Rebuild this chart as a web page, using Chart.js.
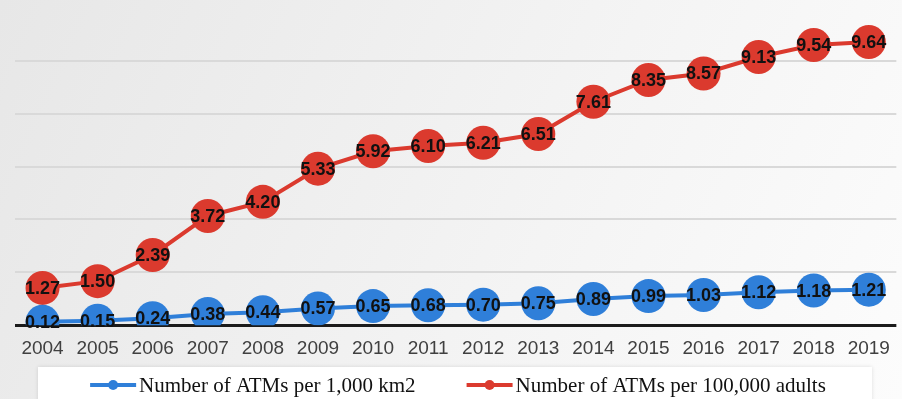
<!DOCTYPE html>
<html>
<head>
<meta charset="utf-8">
<script src="https://cdn.jsdelivr.net/npm/chart.js@4.4.1/dist/chart.umd.min.js"></script>
<style>
  html, body { margin: 0; padding: 0; background: #ffffff; }
  #wrap { width: 902px; height: 399px; }
</style>
</head>
<body>
<div id="wrap"><canvas id="atmChart"></canvas></div>
<script>
// values
var years = ['2004', '2005', '2006', '2007', '2008', '2009', '2010', '2011',
  '2012', '2013', '2014', '2015', '2016', '2017', '2018', '2019'];
var atmsPerArea = [0.12, 0.15, 0.24, 0.38, 0.44, 0.57, 0.65, 0.68,
  0.70, 0.75, 0.89, 0.99, 1.03, 1.12, 1.18, 1.21];
var atmsPerAdults = [1.27, 1.50, 2.39, 3.72, 4.20, 5.33, 5.92, 6.10,
  6.21, 6.51, 7.61, 8.35, 8.57, 9.13, 9.54, 9.64];
var seriesNames = ['Number of ATMs per 1,000 km2', 'Number of ATMs per 100,000 adults'];

var BLUE = '#2f7fd9';
var RED = '#db3a2e';

// gray gradient behind everything
var backdrop = {
  id: 'backdrop',
  beforeDraw: function (chart) {
    var ctx = chart.ctx;
    var g = ctx.createLinearGradient(0, 0, chart.width, chart.height);
    g.addColorStop(0, '#e7e7e7');
    g.addColorStop(0.6, '#f4f4f4');
    g.addColorStop(1, '#fcfcfc');
    ctx.save();
    ctx.fillStyle = g;
    ctx.fillRect(0, 0, chart.width, chart.height);
    ctx.restore();
  }
};

// value labels centred in the big markers
var pointLabels = {
  id: 'pointLabels',
  afterDatasetsDraw: function (chart) {
    var ctx = chart.ctx;
    ctx.save();
    ctx.font = 'bold 18px "Liberation Sans", Arial, sans-serif';
    ctx.fillStyle = '#111111';
    ctx.textAlign = 'center';
    ctx.textBaseline = 'middle';
    for (var d = chart.data.datasets.length - 1; d >= 0; d--) {
      var meta = chart.getDatasetMeta(d);
      meta.data.forEach(function (pt, i) {
        var v = chart.data.datasets[d].data[i];
        ctx.fillText(v.toFixed(2), pt.x, pt.y + 1);
      });
    }
    ctx.restore();
  }
};

// boxed legend with line+dot markers, serif text
var legendBox = {
  id: 'legendBox',
  afterDraw: function (chart) {
    var ctx = chart.ctx;
    var top = chart.height - 32;
    var mid = top + 18;
    ctx.save();
    ctx.shadowColor = 'rgba(0,0,0,0.12)';
    ctx.shadowBlur = 4;
    ctx.fillStyle = '#ffffff';
    ctx.fillRect(38, top, 834, 40);
    ctx.shadowColor = 'transparent';

    ctx.font = '21px "Liberation Serif", "Times New Roman", serif';
    ctx.textBaseline = 'middle';
    var markW = 46, gap = 3, itemGap = 51;
    var widths = chart.data.datasets.map(function (ds) {
      return markW + gap + ctx.measureText(ds.label).width;
    });
    var total = widths.reduce(function (a, b) { return a + b; }, 0) + itemGap;
    var x = chart.width / 2 + 7 - total / 2;
    chart.data.datasets.forEach(function (ds, i) {
      ctx.strokeStyle = ds.borderColor;
      ctx.lineWidth = 4;
      ctx.beginPath();
      ctx.moveTo(x, mid);
      ctx.lineTo(x + markW, mid);
      ctx.stroke();
      ctx.fillStyle = ds.borderColor;
      ctx.beginPath();
      ctx.arc(x + markW / 2, mid, 5, 0, Math.PI * 2);
      ctx.fill();
      ctx.fillStyle = '#111111';
      ctx.fillText(ds.label, x + markW + gap, mid + 1);
      x += widths[i] + itemGap;
    });
    ctx.restore();
  }
};

var chart = new Chart(document.getElementById('atmChart'), {
  type: 'line',
  data: {
    labels: years,
    datasets: [{
      label: seriesNames[0],
      data: atmsPerArea,
      borderColor: BLUE,
      backgroundColor: BLUE,
      borderWidth: 4,
      pointRadius: 17,
      pointHoverRadius: 17,
      pointBorderWidth: 0,
      tension: 0
    }, {
      label: seriesNames[1],
      data: atmsPerAdults,
      borderColor: RED,
      backgroundColor: RED,
      borderWidth: 4,
      pointRadius: 17,
      pointHoverRadius: 17,
      pointBorderWidth: 0,
      tension: 0
    }]
  },
  options: {
    responsive: true,
    maintainAspectRatio: false,
    animation: false,
    layout: { autoPadding: false, padding: { left: 15, right: 2, top: 8, bottom: 27 } },
    plugins: {
      legend: { display: false },
      tooltip: { enabled: false }
    },
    scales: {
      x: {
        offset: true,
        grid: { display: false, drawTicks: false },
        border: { display: false },
        ticks: {
          padding: 12,
          color: '#404040',
          font: { family: '"Liberation Sans", Arial, sans-serif', size: 19 }
        }
      },
      y: {
        min: 0,
        max: 10.8,
        border: { display: false },
        grid: {
          drawTicks: false,
          color: function (c) {
            if (c.index === 0) return '#1b1b1b';
            if (c.tick && c.tick.value >= 10.7) return 'rgba(0,0,0,0)';
            return '#d9d9d9';
          },
          lineWidth: function (c) { return c.index === 0 ? 3 : 2; }
        },
        ticks: { display: false, count: 7 }
      }
    }
  },
  plugins: [backdrop, pointLabels, legendBox]
});
</script>
</body>
</html>
